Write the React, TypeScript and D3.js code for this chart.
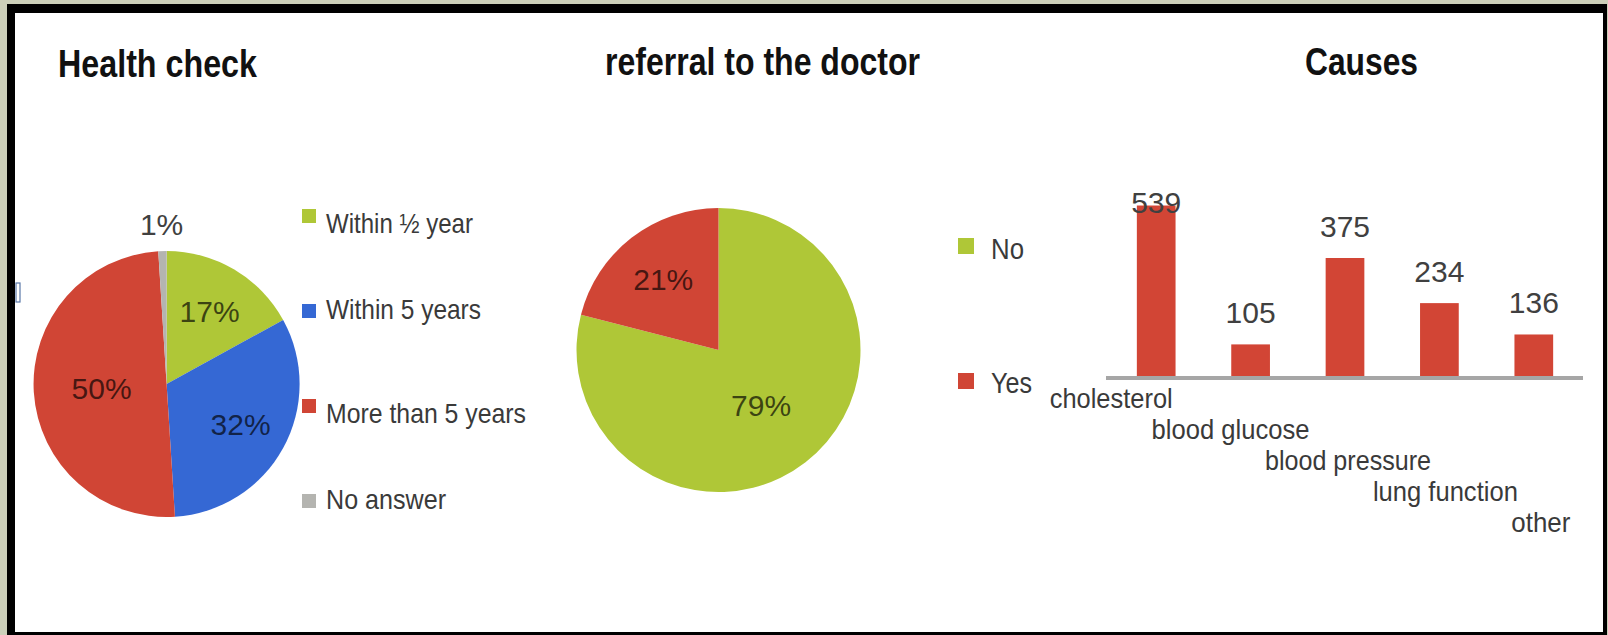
import React from 'react';
import * as d3 from 'd3';

// ---------- data ----------
const healthCategories = ['Within ½ year', 'Within 5 years', 'More than 5 years', 'No answer'];
const healthValues = [17, 32, 50, 1];
const healthColors = ['#afc737', '#3568d4', '#d04535', '#b4b4b0'];

const referralCategories = ['No', 'Yes'];
const referralValues = [79, 21];
const referralColors = ['#afc737', '#d04535'];

const causeCategories = ['cholesterol', 'blood glucose', 'blood pressure', 'lung function', 'other'];
const causeValues = [539, 105, 375, 234, 136];
const causeColor = '#d24535';

const titles = ['Health check', 'referral to the doctor', 'Causes'];

// ---------- layout ----------
const W = 1608;
const H = 635;
const FONT = "'Liberation Sans', Arial, sans-serif";
const TEXT = '#3a3a3a';

const healthLegendWidths = [147, 155, 200, 120];
const referralLegendWidths = [33, 41];
const causeLabelWidths = [123, 158, 166, 145, 59];
const causeLabelNudge = [-45, -20, 3, 6, 7];

function Pie({ cx, cy, r, values, colors }: { cx: number; cy: number; r: number; values: number[]; colors: string[] }) {
  const total = d3.sum(values);
  const arcs = d3.pie<number>().sort(null).value((d) => d)(values);
  const arcGen = d3.arc<d3.PieArcDatum<number>>().innerRadius(0).outerRadius(r);
  return (
    <g transform={`translate(${cx},${cy})`}>
      {arcs.map((a, i) => (
        <path key={i} d={arcGen(a) || ''} fill={colors[i]} />
      ))}
      {arcs.map((a, i) => {
        const frac = a.value / total;
        const mid = (a.startAngle + a.endAngle) / 2;
        const rr = frac < 0.05 ? r + 27 : frac >= 0.5 ? r * 0.49 : r * 0.635;
        const x = rr * Math.sin(mid);
        const y = -rr * Math.cos(mid);
        const outside = frac < 0.05;
        return (
          <text
            key={'t' + i}
            x={x}
            y={y}
            dy="0.36em"
            textAnchor="middle"
            fontFamily={FONT}
            fontSize={30}
            fill={outside ? '#404040' : '#000'}
            fillOpacity={outside ? 1 : 0.68}
          >
            {`${a.value}%`}
          </text>
        );
      })}
    </g>
  );
}

export default function App() {
  // bar chart scales
  const axisY = 378;
  const x = d3.scaleBand<string>().domain(causeCategories).range([1109, 1581]).paddingInner(0.59).paddingOuter(0.295);
  const y = d3.scaleLinear().domain([0, 600]).range([axisY, 186]);
  const plotTop = y(600);

  return (
    <svg
      width={W}
      height={H}
      viewBox={`0 0 ${W} ${H}`}
      style={{ position: 'absolute', left: 0, top: 0, display: 'block' }}
    >
      {/* frame */}
      <rect x={0} y={0} width={W} height={H} fill="#cccfb9" />
      <rect x={7} y={4} width={1600} height={640} fill="#000" />
      <rect x={15} y={13} width={1588} height={619} fill="#fff" />
      <rect x={16} y={283} width={4} height={19} fill="none" stroke="#5a78a8" strokeWidth={1.2} />

      {/* titles */}
      <text x={58} y={77} fontFamily={FONT} fontWeight="bold" fontSize={38} fill="#111" textLength={199} lengthAdjust="spacingAndGlyphs">
        {titles[0]}
      </text>
      <text x={605} y={75} fontFamily={FONT} fontWeight="bold" fontSize={38} fill="#111" textLength={315} lengthAdjust="spacingAndGlyphs">
        {titles[1]}
      </text>
      <text x={1305} y={75} fontFamily={FONT} fontWeight="bold" fontSize={38} fill="#111" textLength={113} lengthAdjust="spacingAndGlyphs">
        {titles[2]}
      </text>

      {/* Health check pie */}
      <Pie cx={166.6} cy={384} r={133} values={healthValues} colors={healthColors} />
      {healthCategories.map((c, i) => (
        <g key={c}>
          <rect x={302} y={209 + i * 95} width={14} height={14} fill={healthColors[i]} />
          <text
            x={326}
            y={209 + i * 95 + (i % 2 ? 15 : 24)}
            fontFamily={FONT}
            fontSize={28}
            fill={TEXT}
            textLength={healthLegendWidths[i]}
            lengthAdjust="spacingAndGlyphs"
          >
            {c}
          </text>
        </g>
      ))}

      {/* Referral pie */}
      <Pie cx={718.5} cy={350} r={142} values={referralValues} colors={referralColors} />
      {referralCategories.map((c, i) => (
        <g key={c}>
          <rect x={958} y={238 + i * 135} width={16} height={16} fill={referralColors[i]} />
          <text
            x={991}
            y={259 + i * 134}
            fontFamily={FONT}
            fontSize={29}
            fill={TEXT}
            textLength={referralLegendWidths[i]}
            lengthAdjust="spacingAndGlyphs"
          >
            {c}
          </text>
        </g>
      ))}

      {/* Causes bar chart */}
      {causeCategories.map((c, i) => (
        <rect
          key={c}
          x={x(c)}
          y={y(causeValues[i])}
          width={x.bandwidth()}
          height={axisY - y(causeValues[i])}
          fill={causeColor}
        />
      ))}
      <line x1={1106} x2={1583} y1={axisY} y2={axisY} stroke="#a6a6a6" strokeWidth={4} />
      {causeCategories.map((c, i) => (
        <text
          key={'v' + c}
          x={(x(c) || 0) + x.bandwidth() / 2}
          y={Math.max(y(causeValues[i]) - 21, plotTop + 27)}
          textAnchor="middle"
          fontFamily={FONT}
          fontSize={30}
          fill="#404040"
        >
          {causeValues[i]}
        </text>
      ))}
      {causeCategories.map((c, i) => (
        <text
          key={'l' + c}
          x={(x(c) || 0) + x.bandwidth() / 2 + causeLabelNudge[i]}
          y={axisY + 30 + i * 31}
          textAnchor="middle"
          fontFamily={FONT}
          fontSize={28}
          fill={TEXT}
          textLength={causeLabelWidths[i]}
          lengthAdjust="spacingAndGlyphs"
        >
          {c}
        </text>
      ))}
    </svg>
  );
}
